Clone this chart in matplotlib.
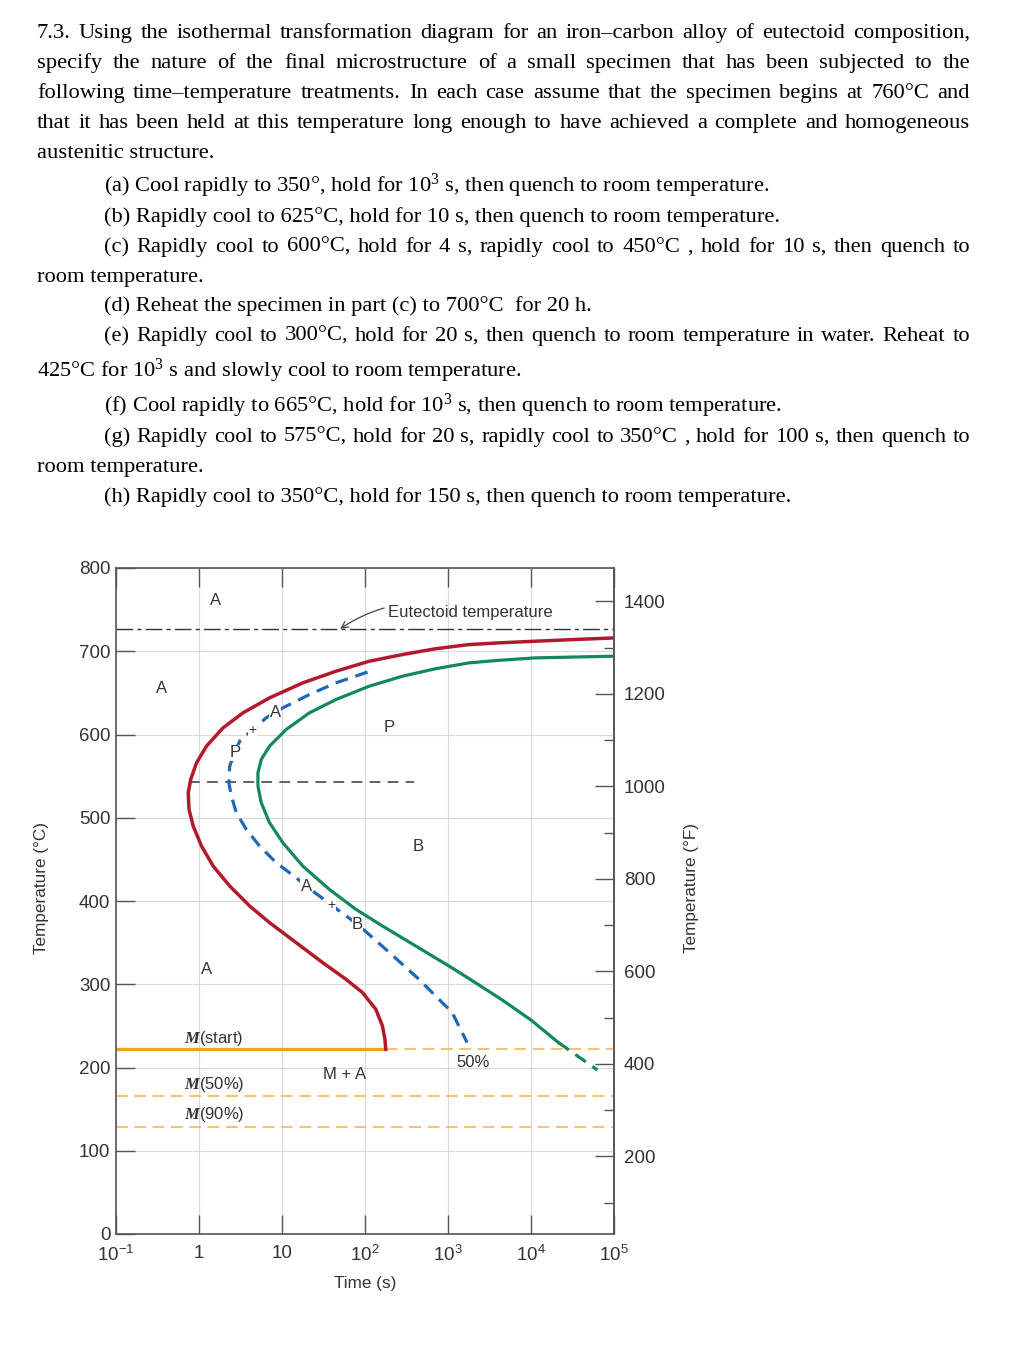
import matplotlib
matplotlib.use("Agg")
import matplotlib.pyplot as plt
import numpy as np

W, H = 1011, 1348

# ---- question text ----
question_lines = [
    "7.3. Using the isothermal transformation diagram for an iron\u2013carbon alloy of eutectoid composition,",
    "specify the nature of the final microstructure  of a small specimen that has been subjected to the",
    "following time\u2013temperature treatments. In each case assume that the specimen begins at 760\u00b0C and",
    "that it has been held at this temperature long enough to have achieved a complete and homogeneous",
    "austenitic structure.",
    "(a) Cool rapidly to 350\u00b0, hold for $\\mathregular{10^3}$ s, then quench to room temperature.",
    "(b) Rapidly cool to 625\u00b0C, hold for 10 s, then quench to room temperature.",
    "(c) Rapidly cool to 600\u00b0C, hold for 4 s, rapidly cool to 450\u00b0C , hold for 10 s, then quench to",
    "room temperature.",
    "(d) Reheat the specimen in part (c) to 700\u00b0C  for 20 h.",
    "(e) Rapidly cool to 300\u00b0C, hold for 20 s, then quench to room temperature in water. Reheat to",
    "425\u00b0C for $\\mathregular{10^3}$ s and slowly cool to room temperature.",
    "(f) Cool rapidly to 665\u00b0C, hold for $\\mathregular{10^3}$ s, then quench to room temperature.",
    "(g) Rapidly cool to 575\u00b0C, hold for 20 s, rapidly cool to 350\u00b0C , hold for 100 s, then quench to",
    "room temperature.",
    "(h) Rapidly cool to 350\u00b0C, hold for 150 s, then quench to room temperature.",
]
# layout: (x start px, baseline px, justified?)
line_layout = [
    (37, 38, True), (37, 68, True), (37, 98, True), (37, 128, True), (37, 158, False),
    (104, 192, False), (104, 222, False), (104, 252, True), (37, 282, False),
    (104, 311, False), (104, 341, True), (37, 377, False), (104, 412, False),
    (104, 442, True), (37, 472, False), (104, 502, False),
]

# ---- diagram data (log10 of time in s, temperature in C) ----
red_logt = [5.0, 4.5, 4.04, 3.6, 3.25, 2.85, 2.45, 2.05, 1.65, 1.25, 0.85, 0.53, 0.29,
            0.09, -0.03, -0.10, -0.13, -0.12, -0.07, 0.03, 0.17, 0.37, 0.61, 0.85,
            1.17, 1.49, 1.77, 1.97, 2.13, 2.21, 2.24, 2.25]
red_T = [716, 714, 712, 710, 708, 703, 696, 688, 676, 662, 644, 626, 608,
         586, 566, 546, 530, 510, 490, 466, 442, 418, 394, 374,
         350, 326, 306, 290, 270, 250, 234, 222]

green_logt = [4.97, 4.5, 4.04, 3.6, 3.25, 2.85, 2.45, 2.05, 1.65, 1.33, 1.05, 0.85,
              0.75, 0.71, 0.71, 0.75, 0.85, 1.01, 1.25, 1.57, 1.89, 2.21, 2.61,
              3.01, 3.25, 3.64, 4.0, 4.33]
green_T = [694, 693, 692, 689, 686, 679, 670, 658, 642, 626, 606, 586,
           570, 554, 538, 518, 494, 470, 442, 414, 390, 370, 346,
           322, 307, 282, 257, 230]
green_ext_logt = [4.33, 4.80]
green_ext_T = [230, 197]

blue_logt = [2.03, 1.65, 1.33, 0.97, 0.81, 0.65, 0.49, 0.43, 0.37, 0.36, 0.39, 0.45,
             0.57, 0.73, 0.93, 1.17, 1.29, 1.61, 1.91, 2.25, 2.65, 3.05, 3.23]
blue_T = [675, 662, 648, 630, 620, 606, 592, 578, 562, 542, 526, 506,
          486, 466, 446, 428, 418, 394, 372, 342, 306, 266, 230]

eutectoid_T = 727
nose_T = 543
nose_logt = [-0.12, 2.59]
m_start_T = 222
m50_T = 166
m90_T = 129
m_start_end_logt = 2.25

region_text = ["A", "A", "P", "B", "A", "M + A", "50%"]
region_logt = [0.20, -0.45, 2.29, 2.64, 0.09, 1.75, 3.30]
region_T = [761, 655, 608, 466, 318, 191, 206]

along_text = ["P", "+", "A", "A", "+", "B"]
along_logt = [0.44, 0.64, 0.92, 1.29, 1.60, 1.91]
along_T = [578, 606, 627, 418, 395, 372]

m_text = ["$M$(start)", "$M$(50%)", "$M$(90%)"]
m_label_T = [235, 180, 143]

time_ticks = [0.1, 1, 10, 100, 1e3, 1e4, 1e5]
time_labels = ["$\\mathregular{10^{-1}}$", "1", "10", "$\\mathregular{10^{2}}$",
               "$\\mathregular{10^{3}}$", "$\\mathregular{10^{4}}$", "$\\mathregular{10^{5}}$"]
temp_c_ticks = list(range(0, 801, 100))
temp_f_ticks = list(range(200, 1401, 200))
temp_f_minor = list(range(100, 1500, 200))

RED = "#b3192c"
GREEN = "#13885a"
BLUE = "#1f68b5"
ORANGE = "#f0a124"
ORANGE_D = "#f2b84e"
TXT = "#333333"

plt.rcParams["font.family"] = ["Liberation Sans", "DejaVu Sans"]
plt.rcParams["mathtext.fontset"] = "custom"
plt.rcParams["mathtext.rm"] = "Liberation Serif"
plt.rcParams["mathtext.it"] = "Liberation Serif:italic:bold"

fig = plt.figure(figsize=(W / 100, H / 100), dpi=100)
renderer = fig.canvas.get_renderer()
serif = dict(family="Liberation Serif", fontsize=16.2, color="black", va="baseline", ha="left")


def fpos(x, y):
    return x / W, 1 - y / H


for line, (x0, y0, just) in zip(question_lines, line_layout):
    if not just:
        fig.text(*fpos(x0, y0), line, **serif)
        continue
    words = line.split()
    texts = [fig.text(0, 0, w, **serif) for w in words]
    widths = [t.get_window_extent(renderer).width for t in texts]
    gap = (970 - x0 - sum(widths)) / (len(words) - 1)
    x = x0
    for t, w in zip(texts, widths):
        t.set_position(fpos(x, y0))
        x += w + gap

# ---- diagram ----
ax = fig.add_axes([116 / W, (H - 1234) / H, 498 / W, 666 / H])
ax.set_xscale("log")
ax.set_xlim(0.1, 1e5)
ax.set_ylim(0, 800)
ax.grid(True, color="#dadada", lw=0.8)
ax.set_axisbelow(True)

t = lambda a: 10 ** np.asarray(a, dtype=float)

ax.plot([0.1, 1e5], [eutectoid_T] * 2, color="#333333", lw=1.0, ls=(0, (12, 3, 3, 3)))
ax.plot(t(nose_logt), [nose_T] * 2, color="#555555", lw=1.3, ls=(0, (6, 4)))

ax.plot([0.1, t(m_start_end_logt)], [m_start_T] * 2, color=ORANGE, lw=2.4, solid_capstyle="butt")
ax.plot([t(m_start_end_logt), 1e5], [m_start_T] * 2, color=ORANGE_D, lw=1.2, ls=(0, (7, 4)))
ax.plot([0.1, 1e5], [m50_T] * 2, color=ORANGE_D, lw=1.2, ls=(0, (7, 4)))
ax.plot([0.1, 1e5], [m90_T] * 2, color=ORANGE_D, lw=1.2, ls=(0, (7, 4)))

ax.plot(t(red_logt), red_T, color=RED, lw=2.5, solid_joinstyle="round")
ax.plot(t(green_logt), green_T, color=GREEN, lw=2.3, solid_joinstyle="round")
ax.plot(t(green_ext_logt), green_ext_T, color=GREEN, lw=2.3, ls=(0, (4, 2.5)))
ax.plot(t(blue_logt), blue_T, color=BLUE, lw=2.3, ls=(0, (4, 2.5)))

for s, lx, ly in zip(region_text, region_logt, region_T):
    ax.text(t(lx), ly, s, ha="center", va="center", fontsize=12, color=TXT)
for s, lx, ly in zip(along_text, along_logt, along_T):
    ax.text(t(lx), ly, s, ha="center", va="center", fontsize=10 if s == "+" else 12,
            color=TXT, bbox=dict(fc="white", ec="none", pad=0.3))
for s, ly in zip(m_text, m_label_T):
    ax.text(t(0.18), ly, s, ha="center", va="center", fontsize=12, color=TXT)

ax.annotate("Eutectoid temperature", xy=(t(1.70), eutectoid_T), xytext=(t(2.28), 747),
            ha="left", va="center", fontsize=12, color=TXT,
            arrowprops=dict(arrowstyle="->", color="#444444", lw=0.9,
                            connectionstyle="arc3,rad=0.25", shrinkA=1, shrinkB=0))

ax.set_xticks(time_ticks)
ax.set_xticklabels(time_labels)
ax.xaxis.set_minor_locator(matplotlib.ticker.NullLocator())
ax.set_yticks(temp_c_ticks)
ax.tick_params(axis="x", direction="in", length=14, width=1, top=True, bottom=True,
               color="#555555", labelsize=13.5, labelcolor=TXT, pad=8)
ax.tick_params(axis="y", direction="in", length=14, width=1, left=True, right=False,
               color="#555555", labelsize=13.5, labelcolor=TXT, pad=4)
for sp in ax.spines.values():
    sp.set_color("#555555")
    sp.set_linewidth(1.2)

sec = ax.secondary_yaxis("right", functions=(lambda c: c * 9 / 5 + 32, lambda f: (f - 32) * 5 / 9))
sec.set_yticks(temp_f_ticks)
sec.set_yticks(temp_f_minor, minor=True)
sec.tick_params(which="major", direction="in", length=14, width=1, color="#555555",
                labelsize=13.5, labelcolor=TXT, pad=7)
sec.tick_params(which="minor", direction="in", length=7, width=1, color="#555555")
sec.spines["right"].set_color("#555555")
sec.spines["right"].set_linewidth(1.2)

ax.text(-0.1486, 0.52, "Temperature (\u00b0C)", transform=ax.transAxes, rotation=90,
        ha="center", va="center", fontsize=12.3, color=TXT)
ax.text(1.155, 0.52, "Temperature (\u00b0F)", transform=ax.transAxes, rotation=90,
        ha="center", va="center", fontsize=12.3, color=TXT)
ax.text(0.5, -0.075, "Time (s)", transform=ax.transAxes, ha="center", va="center",
        fontsize=12.3, color=TXT)

fig.savefig("out.png", dpi=100, facecolor="white")
